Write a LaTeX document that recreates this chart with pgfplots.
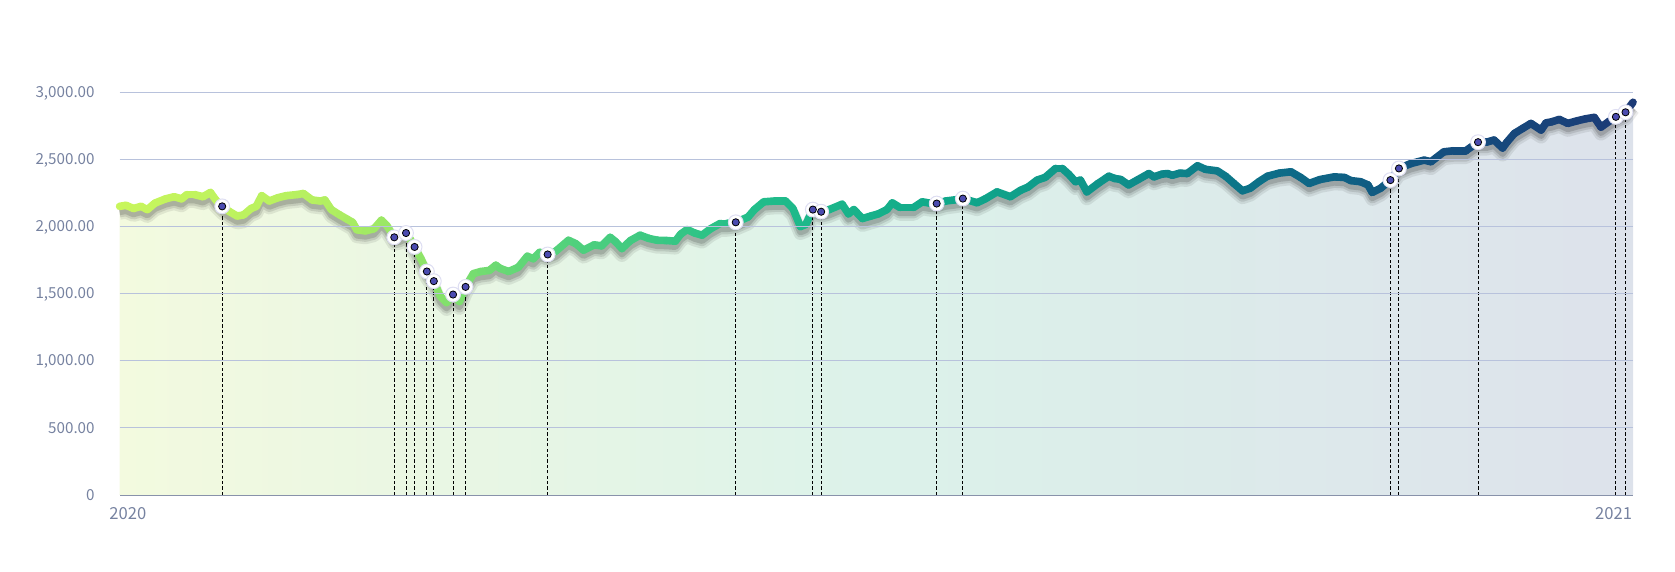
\documentclass[border=0pt]{standalone}
\usepackage{pgfplots}
\usepackage{pgfplotstable}
\pgfplotsset{compat=1.18}
\usepackage{fontspec}
\setmainfont{Noto Sans CJK SC}
\definecolor{tickc}{RGB}{118,130,160}
\definecolor{gridc}{RGB}{184,194,220}
\definecolor{axc}{RGB}{136,146,170}
\definecolor{dotc}{RGB}{75,75,176}
\definecolor{ringc}{RGB}{222,222,242}
\definecolor{fillL}{RGB}{243,250,223}
\definecolor{fillM}{RGB}{220,242,234}
\definecolor{fillR}{RGB}{221,226,235}
\pgfplotstableread{
day value
0.00 2154
1.55 2162
3.36 2138
5.17 2154
6.72 2130
8.53 2178
11.11 2210
13.18 2226
14.99 2210
16.28 2242
18.09 2242
20.16 2226
21.97 2258
23.26 2202
24.81 2154
26.62 2114
28.43 2082
29.98 2090
31.79 2138
33.08 2154
34.37 2234
36.19 2194
38.25 2218
40.32 2234
42.91 2242
44.46 2250
46.53 2202
48.59 2194
49.63 2202
51.18 2130
53.24 2090
55.05 2058
56.35 2035
57.38 1979
59.45 1971
61.52 1987
63.33 2051
64.62 2011
66.43 1923
67.72 1931
69.27 1955
70.31 1907
71.34 1851
72.89 1763
74.31 1668
75.99 1596
77.54 1484
79.09 1436
80.64 1496
82.19 1444
83.67 1553
85.55 1652
87.36 1668
89.43 1676
90.98 1715
92.02 1691
94.08 1668
96.41 1699
98.61 1782
100.03 1763
101.58 1811
103.52 1795
105.46 1819
108.56 1901
110.37 1875
112.18 1827
114.76 1867
116.57 1859
118.64 1923
119.93 1891
121.48 1839
123.55 1899
125.88 1939
127.94 1915
130.01 1901
132.34 1899
134.40 1894
135.70 1947
137.25 1981
139.06 1955
140.87 1939
142.93 1987
145.26 2027
146.81 2027
149.01 2035
151.98 2074
153.53 2130
155.78 2188
158.44 2194
161.03 2194
162.84 2138
164.65 2003
165.94 2019
167.65 2130
169.66 2114
171.62 2130
174.73 2170
176.28 2098
177.57 2130
179.64 2063
181.70 2082
183.51 2098
185.58 2130
186.87 2180
188.68 2146
192.04 2146
194.11 2188
195.92 2178
197.60 2175
199.80 2194
201.86 2202
203.93 2212
207.37 2181
209.36 2210
212.20 2262
215.43 2226
217.89 2274
219.70 2298
221.89 2350
223.83 2370
226.34 2437
227.97 2437
229.52 2394
231.17 2338
232.36 2350
233.92 2262
236.50 2322
239.24 2379
240.64 2362
242.08 2355
244.00 2314
246.32 2354
248.91 2399
250.15 2374
252.01 2394
253.40 2399
254.59 2386
256.40 2402
258.21 2399
260.67 2457
262.61 2430
265.45 2419
267.52 2378
269.51 2324
271.55 2270
273.46 2290
275.53 2338
277.60 2379
280.44 2402
283.28 2412
285.61 2370
287.68 2325
290.27 2354
293.73 2374
296.21 2370
297.76 2346
300.09 2338
301.90 2314
302.93 2258
305.00 2290
307.33 2350
309.39 2437
312.23 2473
315.49 2499
317.14 2487
320.25 2561
322.57 2569
325.57 2569
328.52 2633
330.58 2633
332.39 2649
334.46 2589
335.50 2633
337.31 2698
339.38 2737
341.31 2773
343.77 2723
344.96 2777
346.35 2785
348.16 2803
350.23 2773
352.56 2793
354.63 2808
356.64 2818
358.25 2745
360.06 2785
361.86 2822
364.19 2856
366.00 2931
}\maindata
\pgfplotstableread{
day value
24.81 2154
66.43 1923
69.27 1955
71.34 1851
74.31 1668
75.99 1596
80.64 1496
83.67 1553
103.52 1795
149.01 2035
167.65 2130
169.66 2114
197.60 2175
203.93 2212
307.33 2350
309.39 2437
328.52 2633
361.86 2822
364.19 2856
}\markdata
\begin{document}
\begin{tikzpicture}
\begin{axis}[
  scale only axis,
  width=756.7pt, height=201pt,
  xmin=0, xmax=366, ymin=0, ymax=3000,
  clip=false,
  axis x line*=bottom,
  axis y line*=left,
  y axis line style={draw=none},
  x axis line style={draw=axc, line width=0.6pt},
  ytick={0,500,1000,1500,2000,2500,3000},
  yticklabels={0,500.00,{1,000.00},{1,500.00},{2,000.00},{2,500.00},{3,000.00}},
  yticklabel style={anchor=east, inner sep=0pt, xshift=-12.3pt, text=tickc, font=\fontsize{7.6}{9}\selectfont},
  xtick={2,361.3},
  xticklabels={2020,2021},
  major tick length=0pt,
  xticklabel style={anchor=north, inner sep=0pt, yshift=-6pt, text=tickc, font=\fontsize{8.3}{10}\selectfont},
  colormap={linecmap}{rgb255(0cm)=(200,246,92) rgb255(13cm)=(182,240,96) rgb255(20cm)=(142,228,104) rgb255(28cm)=(88,212,122) rgb255(42cm)=(34,190,138) rgb255(55cm)=(16,168,138) rgb255(65cm)=(14,148,138) rgb255(76cm)=(12,110,136) rgb255(88cm)=(20,78,126) rgb255(100cm)=(28,58,118)},
  point meta min=0, point meta max=366,
]
% area fill
\addplot[draw=none, left color=fillL, right color=fillR, middle color=fillM] table[x=day,y=value]{\maindata} \closedcycle;
% shadow (below the line)
\addplot[draw=black, draw opacity=0.08, line width=7pt, line join=round, yshift=-3.2pt] table[x=day,y=value]{\maindata};
\addplot[draw=black, draw opacity=0.10, line width=5pt, line join=round, yshift=-3pt] table[x=day,y=value]{\maindata};
\addplot[draw=black, draw opacity=0.14, line width=3.2pt, line join=round, yshift=-2.8pt] table[x=day,y=value]{\maindata};
% main gradient line
\addplot[mesh, point meta=x, line width=3.8pt, line cap=round, line join=round] table[x=day,y=value]{\maindata};
% dashed drops
\addplot[ycomb, draw=black, line width=0.5pt, dash pattern=on 1.6pt off 1.1pt, mark=none] table[x=day,y=value]{\markdata};
% markers
\addplot[only marks, mark=*, mark size=3.7pt, mark options={fill=white, draw=ringc, line width=0.5pt}] table[x=day,y=value]{\markdata};
\addplot[only marks, mark=*, mark size=1.8pt, mark options={fill=dotc, draw=none}] table[x=day,y=value]{\markdata};
% grid lines over the fill
\foreach \g in {500,1000,1500,2000,2500,3000} {
  \edef\tmp{\noexpand\draw[gridc, line width=0.5pt] (axis cs:0,\g) -- (axis cs:366,\g);}\tmp
}
\end{axis}
\path (-59.8pt,-38.5pt) rectangle (777.7pt,247.5pt);
\end{tikzpicture}
\end{document}
